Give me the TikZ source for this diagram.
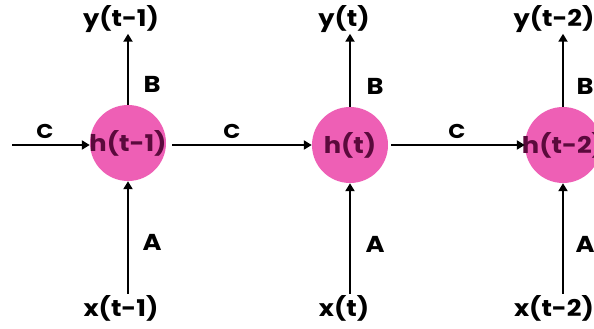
\documentclass[tikz,border=0pt]{standalone}
\usepackage{fontspec}
\setmainfont{Poppins}[FakeStretch=1.12]
\usetikzlibrary{arrows.meta}
\definecolor{nodepink}{HTML}{EE5FB5}
\definecolor{nodetext}{HTML}{5A0A3C}
\tikzset{
  hid/.style={circle, fill=nodepink, minimum size=76pt, inner sep=0pt, text=nodetext, font=\bfseries\fontsize{23}{26}\selectfont},
  io/.style={font=\bfseries\fontsize{23}{26}\selectfont, inner sep=1pt},
  wt/.style={font=\bfseries\fontsize{23}{26}\selectfont, inner sep=0pt},
  cw/.style={font=\bfseries\fontsize{20}{22}\selectfont, inner sep=0pt},
  conn/.style={line width=2.3pt, -{Triangle[length=8pt,width=9pt]}}
}
\begin{document}
\begin{tikzpicture}[x=1pt,y=-1pt]
\useasboundingbox (0,0) rectangle (594,329);
\node[hid] (h1) at (128,143) {\makebox[0pt]{h(t-1)}};
\node[hid] (h2) at (350,145) {\makebox[0pt]{h(t)}};
\node[hid] (h3) at (563,145) {\makebox[0pt]{h(t-2)}};
\node[io] (y1) at (121,19) {y(t-1)};
\node[io] (y2) at (344,19) {y(t)};
\node[io] (y3) at (554,19) {y(t-2)};
\node[io] (x1) at (121,308) {x(t-1)};
\node[io] (x2) at (344,308) {x(t)};
\node[io] (x3) at (554,308) {x(t-2)};
\coordinate (in) at (12,145);
\node[cw] (c0) at (45,131) {C};
\node[cw] (c1) at (232,131) {C};
\node[cw] (c2) at (457,131) {C};
\node[wt] (b1) at (152,84) {B};
\node[wt] (b2) at (375,86) {B};
\node[wt] (b3) at (585,86) {B};
\node[wt] (a1) at (152,242) {A};
\node[wt] (a2) at (375,244) {A};
\node[wt] (a3) at (585,244) {A};
\draw[conn] (in) -- (h1.west |- in);
\draw[conn] ([xshift=6pt]h1.east |- 0,145) -- (h2.west);
\draw[conn] ([xshift=3pt]h2.east) -- (h3.west);
\draw[conn] (h1.south |- x1.north) -- (h1.south);
\draw[conn] (h2.south |- x2.north) -- (h2.south);
\draw[conn] (h3.south |- x3.north) -- (h3.south);
\draw[conn] (h1.north) -- (h1.north |- y1.south);
\draw[conn] (h2.north) -- (h2.north |- y2.south);
\draw[conn] (h3.north) -- (h3.north |- y3.south);
\end{tikzpicture}
\end{document}
